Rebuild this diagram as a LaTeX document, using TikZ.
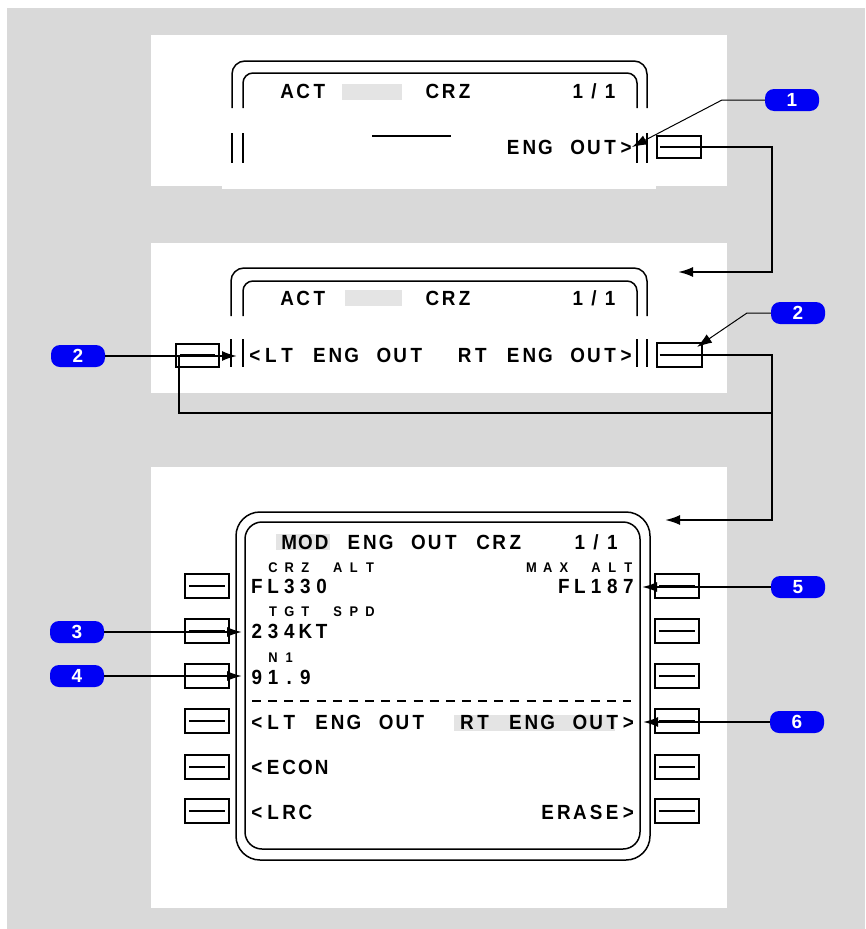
\documentclass[tikz,border=0pt]{standalone}
\usepackage{fontspec}
\usetikzlibrary{arrows.meta}
\newfontfamily\cdufont{Liberation Sans}[FakeStretch=0.92]
\newfontfamily\badgefont{Liberation Sans}
\definecolor{bg}{RGB}{217,217,217}
\definecolor{hl}{RGB}{228,228,228}
\definecolor{badgeblue}{RGB}{0,0,245}
\makeatletter
\newdimen\cdupitch \cdupitch=16.15pt
\def\cdu@stop{\cdu@stop}
\def\cdu#1{\cdu@loop#1\cdu@stop}
\def\cdu@loop#1{%
  \ifx\cdu@stop#1\else
    \ifx_#1\hbox to\cdupitch{}\else\hbox to\cdupitch{\hss#1\hss}\fi
    \expandafter\cdu@loop
  \fi}
\makeatother
\begin{document}
\begin{tikzpicture}[x=1pt,y=-1pt,
  frame/.style={line width=1.5pt},
  big/.style={anchor=base west,inner sep=0pt,font=\cdufont\bfseries\fontsize{20.5}{20.5}\selectfont},
  small/.style={anchor=base west,inner sep=0pt,font=\cdufont\bfseries\fontsize{14}{14}\selectfont},
  lsk/.style={draw,line width=2pt,minimum width=44pt,minimum height=24pt,inner sep=0pt,
    path picture={\draw[line width=2pt] ([xshift=4pt]path picture bounding box.west) -- ([xshift=-4pt]path picture bounding box.east);}},
  conn/.style={line width=2pt},
  tip/.style={-{Latex[length=15pt,width=10pt]}},
  leadthick/.style={line width=2pt,tip},
  leadthin/.style={line width=1pt,tip},
  badge/.style={fill=badgeblue,rounded corners=9pt,minimum width=54pt,minimum height=22pt,inner sep=0pt,
    text=white,font=\badgefont\bfseries\fontsize{19}{19}\selectfont},
  hlbox/.style={fill=hl}
]
\useasboundingbox (0,0) rectangle (865,929);
\fill[bg] (7,8) rectangle (865,929);
% panels
\fill[white] (151,35) rectangle (727,186);
\fill[white] (222,186) rectangle (656,189);
\fill[white] (151,243) rectangle (727,393);
\fill[white] (151,467) rectangle (727,908);

% ---------- panel 1 ----------
\draw[frame,rounded corners=13pt] (232,108) -- (232,61) -- (647,61) -- (647,108);
\draw[frame,rounded corners=10pt] (243,108) -- (243,73) -- (637,73) -- (637,108);
\foreach \xx in {232,243,637,647} \draw[frame] (\xx,133) -- (\xx,163);
\fill[hlbox] (342,84) rectangle (402,100);
\node[big] (p1t1) at (246.5,98) {\cdu{__ACT______CRZ______1/1}};
\node[big] (p1t3) at (246.5,154) {\cdu{________________ENG_OUT>}};
\draw[line width=1.5pt] (372,136) -- (451,136);
\node[lsk,minimum height=22pt] (p1r) at (679,147) {};

% ---------- panel 2 ----------
\draw[frame,rounded corners=13pt] (231,316) -- (231,268) -- (647,268) -- (647,316);
\draw[frame,rounded corners=10pt] (243,316) -- (243,281) -- (637,281) -- (637,316);
\foreach \xx in {231,243,637,647} \draw[frame] (\xx,339) -- (\xx,367);
\fill[hlbox] (345,290) rectangle (402,306);
\node[big] (p2t1) at (246.5,305) {\cdu{__ACT______CRZ______1/1}};
\node[big] (p2t3) at (246.5,362) {\cdu{<LT_ENG_OUT__RT_ENG_OUT>}};
\node[lsk,minimum width=43pt,minimum height=23pt] (p2l) at (197.5,355) {};
\node[lsk,minimum width=45pt] (p2r) at (679,355) {};

% ---------- panel 3 ----------
\draw[frame,rounded corners=24pt] (236,512) rectangle (650,860);
\draw[frame,rounded corners=17pt] (245,522) rectangle (640,849);
\fill[hlbox] (276,534) rectangle (330,550);
\fill[hlbox] (454,715) rectangle (615,731);
\node[big] (t0) at (248.7,549) {\cdu{__MOD_ENG_OUT_CRZ___1/1}};
\node[small] (s1) at (248.7,572) {\cdu{_CRZ_ALT_________MAX_ALT}};
\node[big] (t1) at (248.7,593.5) {\cdu{FL330______________FL187}};
\node[small] (s2) at (248.7,616) {\cdu{_TGT_SPD}};
\node[big] (t2) at (248.7,638) {\cdu{234KT}};
\node[small] (s3) at (248.7,662) {\cdu{_N1}};
\node[big] (t3) at (248.7,684) {\cdu{91.9}};
\draw[line width=1.4pt,dash pattern=on 9pt off 7.15pt] (252,701) -- (631,701);
\node[big] (t4) at (248.7,729) {\cdu{<LT_ENG_OUT__RT_ENG_OUT>}};
\node[big] (t5) at (248.7,774) {\cdu{<ECON}};
\node[big] (t6) at (248.7,819) {\cdu{<LRC______________ERASE>}};
\foreach \yy [count=\i] in {586,631,676,721,767,811} {
  \node[lsk] (l\i) at (207,\yy) {};
  \node[lsk] (r\i) at (677,\yy) {};
}

% ---------- connectors ----------
\coordinate (bus1) at (772,272);
\coordinate (p2in) at (678,272);
\coordinate (bus2) at (772,520);
\coordinate (p3in) at (665,520);
\coordinate (join) at (772,413);
\draw[conn,tip] ([xshift=4pt]p1r.west) -| (bus1) -- (p2in);
\draw[conn,tip] ([xshift=4pt]p2r.west) -| (bus2) -- (p3in);
\draw[conn] ([xshift=4pt]p2l.west) |- (join);

% ---------- badges ----------
\node[badge] (b1) at (792,100) {1};
\node[badge] (b2l) at (78,356) {2};
\node[badge] (b2r) at (798,313) {2};
\node[badge] (b3) at (77,632) {3};
\node[badge] (b4) at (77,676) {4};
\node[badge] (b5) at (798,587) {5};
\node[badge] (b6) at (797,722) {6};

\coordinate (k1) at (722,100);
\coordinate (a1) at (632,147);
\coordinate (a2l) at (237,356);
\coordinate (k2r) at (747,313);
\coordinate (a2r) at (697,347);
\coordinate (a3) at (242,632);
\coordinate (a4) at (242,676);
\coordinate (a5) at (642,587);
\coordinate (a6) at (643,722);
\draw[leadthin] (b1.west) -- (k1) -- (a1);
\draw[leadthick] (b2l.east) -- (a2l);
\draw[leadthin] (b2r.west) -- (k2r) -- (a2r);
\draw[leadthick] (b3.east) -- (a3);
\draw[leadthick] (b4.east) -- (a4);
\draw[leadthick] (b5.west) -- (a5);
\draw[leadthick] (b6.west) -- (a6);
\end{tikzpicture}
\end{document}
